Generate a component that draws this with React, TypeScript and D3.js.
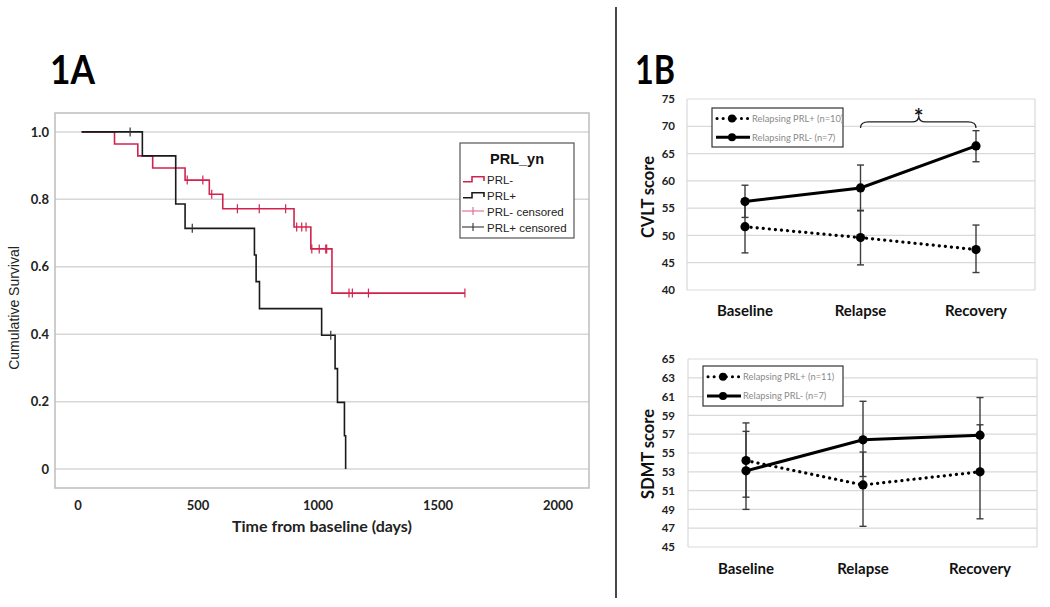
import React from 'react';
import * as d3 from 'd3';

// ---------- Panel 1A: Kaplan-Meier data ----------
const kmXTicks = [0, 500, 1000, 1500, 2000];
const kmYTicks = [0, 0.2, 0.4, 0.6, 0.8, 1.0];
const kmYTickLabels = ['0', '0.2', '0.4', '0.6', '0.8', '1.0'];
// [time (days), cumulative survival]
const prlNegSteps: [number, number][] = [
  [15, 1], [152, 0.964], [249, 0.929], [311, 0.893], [446, 0.857], [547, 0.815],
  [603, 0.772], [900, 0.718], [970, 0.653], [1058, 0.522], [1612, 0.522],
];
const prlPosSteps: [number, number][] = [
  [15, 1], [268, 0.929], [407, 0.786], [446, 0.714], [735, 0.635], [742, 0.556],
  [756, 0.476], [1015, 0.397], [1071, 0.298], [1081, 0.198], [1110, 0.099], [1115, 0],
];
const prlNegCensored = [455, 520, 557, 664, 755, 865, 911, 932, 950, 974, 1005, 1032, 1036, 1129, 1143, 1210, 1612];
const prlPosCensored = [217, 476, 1053];
const kmLegendTitle = 'PRL_yn';
const kmLegendLabels = ['PRL-', 'PRL+', 'PRL- censored', 'PRL+ censored'];

// ---------- Panel 1B: line charts ----------
const categories = ['Baseline', 'Relapse', 'Recovery'];
const cvltTicks = [40, 45, 50, 55, 60, 65, 70, 75];
const cvltPosMean = [51.6, 49.6, 47.4];
const cvltPosLow = [46.8, 44.6, 43.2];
const cvltPosHigh = [56.4, 54.6, 51.9];
const cvltNegMean = [56.2, 58.7, 66.4];
const cvltNegLow = [53.3, 54.5, 63.5];
const cvltNegHigh = [59.2, 62.9, 69.2];
const cvltLabels = ['Relapsing PRL+ (n=10)', 'Relapsing PRL- (n=7)'];

const sdmtTicks = [45, 47, 49, 51, 53, 55, 57, 59, 61, 63, 65];
const sdmtPosMean = [54.2, 51.6, 53.0];
const sdmtPosLow = [50.3, 47.2, 48.0];
const sdmtPosHigh = [58.2, 55.1, 58.0];
const sdmtNegMean = [53.1, 56.4, 56.9];
const sdmtNegLow = [49.0, 52.5, 52.8];
const sdmtNegHigh = [57.3, 60.5, 60.9];
const sdmtLabels = ['Relapsing PRL+ (n=11)', 'Relapsing PRL- (n=7)'];

const CAL = "Lato, 'Open Sans', sans-serif";
const ARIAL = "'Liberation Sans', Arial, sans-serif";
const RED = '#d2234f';
const PINK = '#e2668a';
const DARK = '#1a1a1a';

function survivalAt(steps: [number, number][], t: number) {
  let s = steps[0][1];
  for (const [tt, ss] of steps) if (tt <= t) s = ss;
  return s;
}

function KMPanel() {
  const x = d3.scaleLinear().domain([-96, 2129]).range([55, 589]);
  const y = d3.scaleLinear().domain([-0.056, 1.056]).range([488, 113]);
  const line = d3.line<[number, number]>().x(d => x(d[0])).y(d => y(d[1])).curve(d3.curveStepAfter);
  const [x0, x1] = x.range();
  const [yb, yt] = y.range();
  const censor = (times: number[], steps: [number, number][], color: string, key: string) =>
    times.map((t, i) => {
      const cx = x(t), cy = y(survivalAt(steps, t));
      return <line key={key + i} x1={cx} x2={cx} y1={cy - 4.5} y2={cy + 4.5} stroke={color} strokeWidth={1.2} />;
    });
  const lx = 460, ly = 143;
  return (
    <g>
      {kmYTicks.map(t => (
        <line key={'g' + t} x1={x0} x2={x1} y1={y(t)} y2={y(t)} stroke="#d6d6d6" strokeWidth={1.5} />
      ))}
      <rect x={x0} y={yt} width={x1 - x0} height={yb - yt} fill="none" stroke="#bdbdbd" strokeWidth={1.5} />
      {kmYTicks.map((t, i) => (
        <text key={'yl' + t} x={49} y={y(t)} dy="0.36em" textAnchor="end" fontFamily={CAL} fontWeight={700} fontSize={13} fill="#222">{kmYTickLabels[i]}</text>
      ))}
      {kmXTicks.map(t => (
        <text key={'xl' + t} x={x(t)} y={510} textAnchor="middle" fontFamily={CAL} fontWeight={700} fontSize={13} fill="#222">{t}</text>
      ))}
      <text x={322} y={532} textAnchor="middle" fontFamily={CAL} fontWeight={700} fontSize={16} fill="#222">Time from baseline (days)</text>
      <text transform={`translate(18.5,308) rotate(-90)`} textAnchor="middle" fontFamily={ARIAL} fontSize={14} fill="#222">Cumulative Survival</text>

      <path d={line(prlNegSteps) || ''} fill="none" stroke={RED} strokeWidth={1.6} />
      <path d={line(prlPosSteps) || ''} fill="none" stroke={DARK} strokeWidth={1.6} />
      {censor(prlNegCensored, prlNegSteps, RED, 'cn')}
      {censor(prlPosCensored, prlPosSteps, '#333', 'cp')}

      <rect x={lx} y={ly} width={114} height={95} fill="white" stroke="#555" strokeWidth={1.2} />
      <text x={lx + 57} y={ly + 21} textAnchor="middle" fontFamily={ARIAL} fontWeight={700} fontSize={14.5} fill="#111">{kmLegendTitle}</text>
      <path d={`M${lx + 3},${ly + 38.7} H${lx + 12} V${ly + 33.7} H${lx + 24} V${ly + 38}`} fill="none" stroke={RED} strokeWidth={1.6} />
      <path d={`M${lx + 3},${ly + 54.7} H${lx + 12} V${ly + 49.7} H${lx + 24} V${ly + 54}`} fill="none" stroke={DARK} strokeWidth={1.6} />
      <line x1={lx + 2} x2={lx + 24} y1={ly + 68} y2={ly + 68} stroke={PINK} strokeWidth={1.1} />
      <line x1={lx + 13} x2={lx + 13} y1={ly + 64} y2={ly + 72} stroke={PINK} strokeWidth={1.1} />
      <line x1={lx + 2} x2={lx + 24} y1={ly + 84} y2={ly + 84} stroke="#333" strokeWidth={1.1} />
      <line x1={lx + 13} x2={lx + 13} y1={ly + 80} y2={ly + 88} stroke="#333" strokeWidth={1.1} />
      {kmLegendLabels.map((l, i) => (
        <text key={l} x={lx + 27} y={ly + 41 + i * 16} fontFamily={ARIAL} fontSize={11.5} fill="#222">{l}</text>
      ))}
    </g>
  );
}

type LineProps = {
  xRange: [number, number];
  boxX: [number, number];
  yDomain: [number, number];
  yRange: [number, number];
  ticks: number[];
  posMean: number[]; posLow: number[]; posHigh: number[];
  negMean: number[]; negLow: number[]; negHigh: number[];
  labels: string[];
  yLabel: string;
  yLabelY: number;
  catY: number;
  legend: { x: number; y: number; w: number; h: number; mx: number };
  bracket?: boolean;
};

function LinePanel(p: LineProps) {
  const x = d3.scalePoint<string>().domain(categories).range(p.xRange);
  const y = d3.scaleLinear().domain(p.yDomain).range(p.yRange);
  const [bx0, bx1] = p.boxX;
  const line = d3.line<number>().x((_, i) => x(categories[i]) as number).y(d => y(d));
  const errBars = (mean: number[], lo: number[], hi: number[], key: string) =>
    mean.map((_, i) => {
      const cx = x(categories[i]) as number;
      return (
        <g key={key + i} stroke="#3c3c3c" strokeWidth={1.4}>
          <line x1={cx} x2={cx} y1={y(lo[i])} y2={y(hi[i])} />
          <line x1={cx - 3.5} x2={cx + 3.5} y1={y(lo[i])} y2={y(lo[i])} />
          <line x1={cx - 3.5} x2={cx + 3.5} y1={y(hi[i])} y2={y(hi[i])} />
        </g>
      );
    });
  const L = p.legend;
  const r1 = L.y + L.h * 0.27, r2 = L.y + L.h * 0.75;
  let bracket = null;
  if (p.bracket) {
    const xa = x('Relapse') as number, xb = x('Recovery') as number;
    const xm = (xa + xb) / 2 + 0.5;
    const y0 = y(70.8), yp = y(71.9);
    const d = `M${xa},${y0 + 6} Q${xa},${y0} ${xa + 8},${y0} L${xm - 7},${y0} Q${xm},${y0} ${xm},${yp}` +
      ` Q${xm},${y0} ${xm + 7},${y0} L${xb - 8},${y0} Q${xb},${y0} ${xb},${y0 + 6}`;
    bracket = (
      <g>
        <path d={d} fill="none" stroke="#222" strokeWidth={1.3} />
        <text x={xm} y={y(70.8) + 3} textAnchor="middle" fontFamily={CAL} fontWeight={700} fontSize={23} fill="#111">*</text>
      </g>
    );
  }
  return (
    <g>
      {p.ticks.map(t => (
        <line key={'g' + t} x1={bx0} x2={bx1} y1={y(t)} y2={y(t)} stroke="#d9d9d9" strokeWidth={1.2} />
      ))}
      <line x1={bx0} x2={bx0} y1={p.yRange[0]} y2={p.yRange[1]} stroke="#d9d9d9" strokeWidth={1.2} />
      <line x1={bx1} x2={bx1} y1={p.yRange[0]} y2={p.yRange[1]} stroke="#d9d9d9" strokeWidth={1.2} />
      {p.ticks.map(t => (
        <text key={'t' + t} x={675} y={y(t)} dy="0.36em" textAnchor="end" fontFamily={CAL} fontWeight={700} fontSize={11.5} fill="#222">{t}</text>
      ))}
      {categories.map(c => (
        <text key={c} x={x(c) as number} y={p.catY} textAnchor="middle" fontFamily={CAL} fontWeight={700} fontSize={15} fill="#111">{c}</text>
      ))}
      <text transform={`translate(654,${p.yLabelY}) rotate(-90)`} textAnchor="middle" fontFamily={CAL} fontWeight={700} fontSize={16.5} fill="#111">{p.yLabel}</text>

      {errBars(p.posMean, p.posLow, p.posHigh, 'ep')}
      {errBars(p.negMean, p.negLow, p.negHigh, 'en')}
      <path d={line(p.posMean) || ''} fill="none" stroke="#000" strokeWidth={3.2} strokeDasharray="0.1 6" strokeLinecap="round" />
      <path d={line(p.negMean) || ''} fill="none" stroke="#000" strokeWidth={3} />
      {p.posMean.map((v, i) => <circle key={'mp' + i} cx={x(categories[i]) as number} cy={y(v)} r={4.6} fill="#000" />)}
      {p.negMean.map((v, i) => <circle key={'mn' + i} cx={x(categories[i]) as number} cy={y(v)} r={4.6} fill="#000" />)}

      <rect x={L.x} y={L.y} width={L.w} height={L.h} fill="white" stroke="#333" strokeWidth={1.2} />
      <line x1={L.x + 5} x2={L.mx + 18} y1={r1} y2={r1} stroke="#000" strokeWidth={3} strokeDasharray="0.1 6" strokeLinecap="round" />
      <circle cx={L.mx} cy={r1} r={4} fill="#000" />
      <line x1={L.x + 4} x2={L.mx + 18} y1={r2} y2={r2} stroke="#000" strokeWidth={3} />
      <circle cx={L.mx} cy={r2} r={4} fill="#000" />
      {p.labels.map((l, i) => (
        <text key={l} x={L.mx + 20} y={(i === 0 ? r1 : r2)} dy="0.35em" fontFamily={CAL} fontSize={9.3} fill="#8a8a8a">{l}</text>
      ))}
      {bracket}
    </g>
  );
}

export default function App() {
  return (
    <svg width={1050} height={607} viewBox="0 0 1050 607" style={{ position: 'absolute', left: 0, top: 0, background: 'white' }}>
      <rect x={0} y={0} width={1050} height={607} fill="white" />
      <text x={50} y={84} fontFamily={CAL} fontWeight={700} fontSize={40} textLength={45} lengthAdjust="spacingAndGlyphs" fill="#000">1A</text>
      <text x={635} y={84} fontFamily={CAL} fontWeight={700} fontSize={40} textLength={40} lengthAdjust="spacingAndGlyphs" fill="#000">1B</text>
      <line x1={616} x2={616} y1={7} y2={598} stroke="#1a1a1a" strokeWidth={1.6} />
      <KMPanel />
      <LinePanel
        xRange={[745, 976]} boxX={[687, 1035]} yDomain={[40, 75]} yRange={[290, 99]} ticks={cvltTicks}
        posMean={cvltPosMean} posLow={cvltPosLow} posHigh={cvltPosHigh}
        negMean={cvltNegMean} negLow={cvltNegLow} negHigh={cvltNegHigh}
        labels={cvltLabels} yLabel="CVLT score" yLabelY={197} catY={316}
        legend={{ x: 712, y: 108, w: 131, h: 39, mx: 732 }} bracket
      />
      <LinePanel
        xRange={[746, 980]} boxX={[688, 1037]} yDomain={[45, 65]} yRange={[547, 359]} ticks={sdmtTicks}
        posMean={sdmtPosMean} posLow={sdmtPosLow} posHigh={sdmtPosHigh}
        negMean={sdmtNegMean} negLow={sdmtNegLow} negHigh={sdmtNegHigh}
        labels={sdmtLabels} yLabel="SDMT score" yLabelY={454} catY={574}
        legend={{ x: 703, y: 366, w: 140, h: 40, mx: 723 }}
      />
    </svg>
  );
}
